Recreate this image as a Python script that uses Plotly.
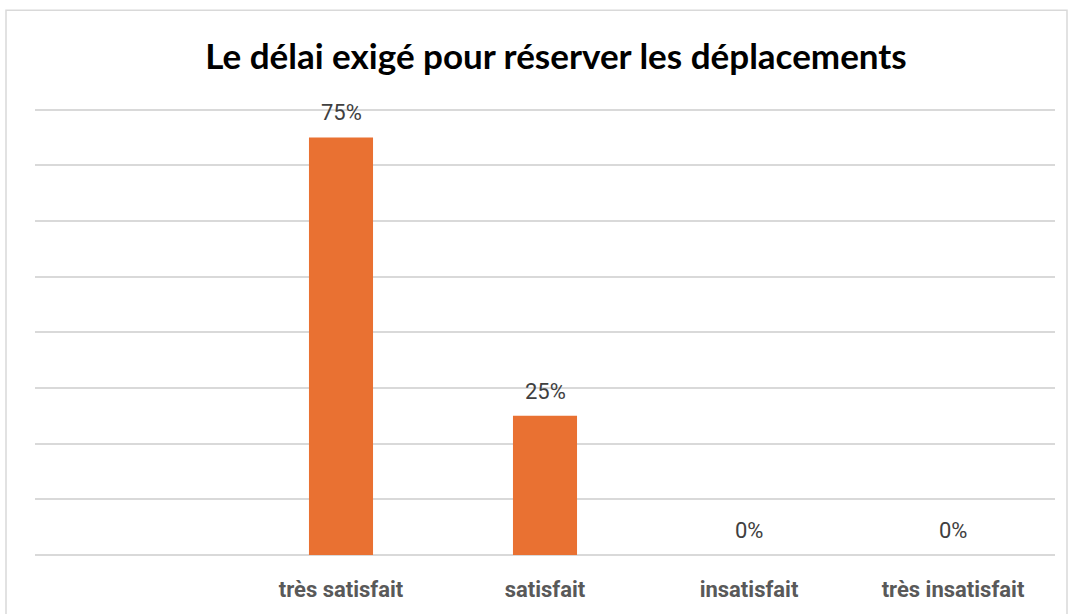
import plotly.graph_objects as go

categories = ["très satisfait", "satisfait", "insatisfait", "très insatisfait"]
values = [0.75, 0.25, 0.0, 0.0]
title = "Le délai exigé pour réserver les déplacements"

W, H = 1069, 614
YMAX = 0.81
K = 560.0  # pixels per unit
L, R, B = 35, 14, 56
ph = YMAX * K
T = H - B - ph
pw = W - L - R

fig = go.Figure()
fig.add_trace(go.Bar(
    x=categories, y=values,
    marker=dict(color="#E97132", line=dict(width=0)),
    width=0.314,
    hoverinfo="skip",
))

for c, v in zip(categories, values):
    fig.add_annotation(
        x=c, y=v, text=f"{v:.0%}", showarrow=False,
        yanchor="bottom", yshift=10,
        font=dict(family="Roboto, Arial, sans-serif", size=22, color="#404040"),
    )

def py(pix):
    return (H - B - pix) / ph

def px(pix):
    return (pix - L) / pw

# chart border
fig.add_shape(type="rect", xref="paper", yref="paper",
              x0=px(6), x1=px(1067), y0=py(640), y1=py(10),
              line=dict(color="#D9D9D9", width=1.5), fillcolor="rgba(0,0,0,0)", layer="below")

fig.update_layout(
    width=W, height=H,
    margin=dict(l=L, r=R, t=T, b=B, pad=0),
    paper_bgcolor="white", plot_bgcolor="white",
    showlegend=False,
    title=dict(text="<b>" + title + "</b>", x=556 / W, xanchor="center",
               y=1 - 57 / H, yanchor="middle",
               font=dict(family="Lato, sans-serif", size=35, color="#000000")),
    xaxis=dict(
        type="category", categoryarray=categories,
        range=[-1.5, len(categories) - 0.5],
        showgrid=False, zeroline=False, showline=False,
        ticks="", ticklabelstandoff=19,
        tickfont=dict(family="Roboto, Arial, sans-serif", size=22, color="#595959", weight="bold"),
        fixedrange=True,
    ),
    yaxis=dict(
        range=[0, YMAX], tickvals=[0, 0.1, 0.2, 0.3, 0.4, 0.5, 0.6, 0.7, 0.8],
        showticklabels=False,
        showgrid=True, gridcolor="#D9D9D9", gridwidth=1.5,
        zeroline=True, zerolinecolor="#D9D9D9", zerolinewidth=1.5,
        showline=False, fixedrange=True,
    ),
)

fig.write_html("out.html", config={"displayModeBar": False},
               post_script="document.body.style.margin='0';")
